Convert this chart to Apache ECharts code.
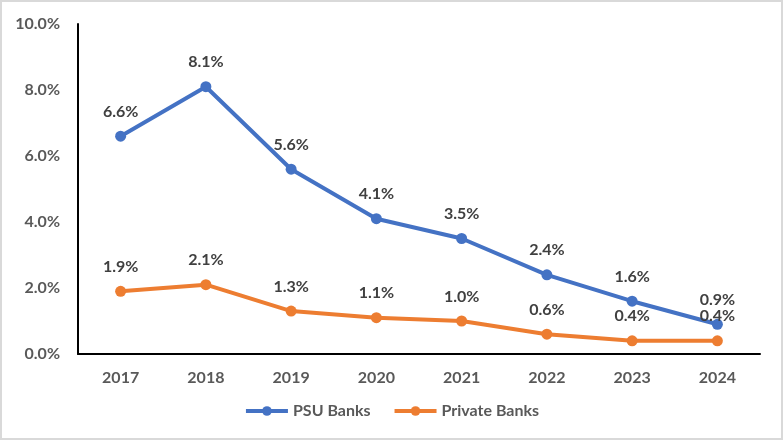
<!DOCTYPE html>
<html>
<head>
  <meta charset="UTF-8" />
  <title>PSU vs Private Banks</title>
  <script src="https://cdn.jsdelivr.net/npm/echarts@6/dist/echarts.min.js"></script>
  <style>
    html, body { margin: 0; padding: 0; background: #fff; }
    #frame { width: 779px; height: 436px; border: 2px solid #d9d9d9; position: relative; }
    #myChart { position: absolute; left: -2px; top: -2px; width: 783px; height: 440px; }
  </style>
</head>
<body>
  <div id="frame"><div id="myChart"></div></div>

  <script>
    const years = ['2017', '2018', '2019', '2020', '2021', '2022', '2023', '2024'];
    const psuBanks = [6.6, 8.1, 5.6, 4.1, 3.5, 2.4, 1.6, 0.9];
    const privateBanks = [1.9, 2.1, 1.3, 1.1, 1.0, 0.6, 0.4, 0.4];

    const font = 'Lato, "Open Sans", sans-serif';
    const chart = echarts.init(document.getElementById('myChart'));

    const labelStyle = {
      show: true,
      position: 'top',
      distance: 11,
      fontFamily: font,
      fontSize: 16,
      fontWeight: 'bold',
      color: '#404040',
      formatter: p => p.value.toFixed(1) + '%'
    };

    chart.setOption({
      animation: false,
      textStyle: { fontFamily: font },
      grid: { left: 78, right: 23, top: 24, bottom: 86 },
      legend: {
        bottom: 16,
        left: 'center',
        itemWidth: 42,
        itemHeight: 12,
        itemGap: 22,
        lineStyle: { width: 4 },
        textStyle: { fontFamily: font, fontSize: 16, color: '#595959', fontWeight: 'bold' },
        data: ['PSU Banks', 'Private Banks']
      },
      xAxis: {
        type: 'category',
        data: years,
        axisLine: { lineStyle: { color: '#000', width: 2 } },
        axisTick: { show: false },
        axisLabel: { fontFamily: font, fontSize: 16, fontWeight: 'bold', color: '#595959', margin: 16 }
      },
      yAxis: {
        type: 'value',
        min: 0,
        max: 10,
        interval: 2,
        axisLine: { show: true, lineStyle: { color: '#000', width: 2 } },
        axisTick: { show: false },
        splitLine: { show: false },
        axisLabel: {
          fontFamily: font, fontSize: 16, fontWeight: 'bold', color: '#595959', margin: 18,
          formatter: v => v.toFixed(1) + '%'
        }
      },
      series: [
        {
          name: 'PSU Banks',
          type: 'line',
          data: psuBanks,
          symbol: 'circle',
          symbolSize: 11,
          lineStyle: { color: '#4472C4', width: 4 },
          itemStyle: { color: '#4472C4' },
          label: labelStyle
        },
        {
          name: 'Private Banks',
          type: 'line',
          data: privateBanks,
          symbol: 'circle',
          symbolSize: 11,
          lineStyle: { color: '#ED7D31', width: 4 },
          itemStyle: { color: '#ED7D31' },
          label: labelStyle
        }
      ]
    });
  </script>
</body>
</html>
